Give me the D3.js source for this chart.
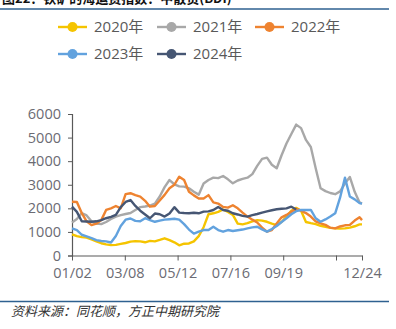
<!DOCTYPE html>
<html>
<head>
<meta charset="utf-8">
<script src="https://cdn.jsdelivr.net/npm/d3@7"></script>
<style>
  html, body { margin: 0; padding: 0; background: #fff; }
  svg { display: block; }
</style>
</head>
<body>
<svg id="chart" width="396" height="329"></svg>
<script>
// Day index (0 = 01/02), sampled every 6 days up to 12/24
const days = d3.range(0, 360, 6).concat([357]);

const tickDays = [0, 65, 130, 195, 260, 325, 357];
const tickLabels = ["01/02", "03/08", "05/12", "07/16", "09/19", "", "12/24"];
const yTicks = [0, 1000, 2000, 3000, 4000, 5000, 6000];

const seriesNames = ["2020年", "2021年", "2022年", "2023年", "2024年"];
const seriesColors = ["#f5c400", "#a8a8a8", "#ee8330", "#62a2de", "#465673"];

const v2020 = [900, 820, 780, 760, 680, 600, 520, 470, 440, 450, 490, 530, 590, 610, 600, 560,
  620, 600, 660, 730, 650, 560, 430, 500, 510, 600, 820, 1200, 1750, 1790, 1850, 1950, 1850, 1720,
  1350, 1320, 1370, 1450, 1500, 1480, 1430, 1350, 1290, 1420, 1650, 1900, 2020, 1900, 1420, 1370,
  1330, 1260, 1220, 1170, 1150, 1140, 1150, 1180, 1240, 1320, 1320];
const v2021 = [1400, 1550, 1800, 1700, 1450, 1350, 1330, 1420, 1550, 1650, 1710, 1760, 1800, 1930,
  2050, 2080, 2120, 2200, 2500, 2900, 3200, 3020, 2930, 2920, 2850, 2700, 2580, 3050, 3200, 3300,
  3280, 3370, 3230, 3060, 3180, 3250, 3300, 3450, 3800, 4100, 4150, 3850, 3700, 4250, 4750, 5150,
  5550, 5400, 4900, 4600, 3700, 2850, 2730, 2650, 2600, 2720, 3050, 3330, 2700, 2250, 2200];
const v2022 = [2280, 2270, 1800, 1450, 1290, 1350, 1500, 1930, 2000, 2100, 2000, 2600, 2640, 2560,
  2500, 2320, 2070, 2100, 2330, 2570, 2850, 3000, 3340, 3200, 2700, 2550, 2420, 2420, 2560, 2250,
  2200, 2060, 2030, 2130, 2000, 1820, 1650, 1520, 1400, 1180, 1010, 1080, 1360, 1620, 1720, 1850,
  1980, 1900, 1800, 1650, 1450, 1360, 1300, 1180, 1150, 1230, 1280, 1300, 1480, 1620, 1500];
const v2023 = [1150, 1080, 880, 810, 740, 650, 615, 600, 550, 830, 1250, 1520, 1570, 1470, 1450,
  1580, 1500, 1430, 1480, 1520, 1540, 1560, 1520, 1330, 1100, 930, 1010, 1080, 1080, 1220, 1080,
  1010, 1080, 1040, 1070, 1100, 1150, 1190, 1220, 1110, 1010, 1120, 1250, 1420, 1580, 1750, 1880,
  1930, 1930, 1930, 1580, 1430, 1530, 1650, 1790, 2450, 3300, 2500, 2380, 2220, 2200];
const v2024 = [2070, 1850, 1450, 1440, 1430, 1450, 1500, 1580, 1640, 1720, 2050, 2270, 2350, 2100,
  1900, 1740, 1580, 1780, 1750, 1650, 1780, 2050, 1820, 1800, 1790, 1810, 1790, 1860, 1870, 1930,
  2060, 1930, 1900, 1790, 1740, 1680, 1650, 1710, 1760, 1820, 1870, 1920, 1960, 1980, 2000, 2070,
  1950];

const seriesValues = [v2020, v2021, v2022, v2023, v2024];

const svg = d3.select("#chart");
const font = "'Open Sans', 'Noto Sans CJK SC', sans-serif";
const steel = "#2e6190";

// Heading (runs past the top edge) and rules
svg.append("text")
  .attr("x", 2).attr("y", 3)
  .attr("font-family", "'Noto Sans CJK SC', sans-serif")
  .attr("font-size", 13).attr("font-weight", "bold").attr("fill", "#111")
  .text("图22：铁矿的海运费指数：中散货(BDI)");
svg.append("line").attr("x1", 0).attr("x2", 389).attr("y1", 9).attr("y2", 9)
  .attr("stroke", steel).attr("stroke-width", 1.5);
svg.append("line").attr("x1", 0).attr("x2", 389).attr("y1", 301.5).attr("y2", 301.5)
  .attr("stroke", steel).attr("stroke-width", 1.5);

// Source line
svg.append("text")
  .attr("x", 11).attr("y", 316)
  .attr("font-family", "'Noto Sans CJK SC', sans-serif")
  .attr("font-size", 13).attr("font-style", "italic").attr("fill", "#333")
  .text("资料来源：同花顺，方正中期研究院");

// Scales
const x = d3.scaleLinear().domain([0, 357]).range([72, 362]);
const y = d3.scaleLinear().domain([0, 6000]).range([255.5, 114]);

// Y axis
const yAxis = svg.append("g")
  .attr("transform", "translate(72,0)")
  .call(d3.axisLeft(y).tickValues(yTicks).tickFormat(d3.format("d")).tickSize(4).tickPadding(7));
yAxis.select(".domain").attr("stroke", "#595959").attr("stroke-width", 1.2);
yAxis.selectAll(".tick line").attr("stroke", "#595959");
yAxis.selectAll("text").attr("font-family", font).attr("font-size", 14.5).attr("fill", "#6b6b73");

// X axis
const xAxis = svg.append("g")
  .attr("transform", "translate(0,255.5)")
  .call(d3.axisBottom(x).tickValues(tickDays).tickFormat((d, i) => tickLabels[i]).tickSize(5).tickSizeOuter(0).tickPadding(7));
xAxis.select(".domain").attr("stroke", "#595959").attr("stroke-width", 1.2);
xAxis.selectAll(".tick line").attr("stroke", "#595959");
xAxis.selectAll("text").attr("font-family", font).attr("font-size", 14.5).attr("fill", "#6b6b73");

// Lines
const line = d3.line()
  .defined(d => d[1] != null)
  .x(d => x(d[0]))
  .y(d => y(d[1]));

seriesValues.forEach((vals, i) => {
  const pts = vals.map((v, j) => [days[j], v]);
  svg.append("path")
    .datum(pts)
    .attr("fill", "none")
    .attr("stroke", seriesColors[i])
    .attr("stroke-width", 2.4)
    .attr("stroke-linejoin", "round")
    .attr("d", line);
});

// Legend
const legendPos = [[58, 27], [157, 27], [255, 27], [58, 54], [157, 54]];
seriesNames.forEach((name, i) => {
  const [lx, ly] = legendPos[i];
  const g = svg.append("g").attr("transform", `translate(${lx},${ly})`);
  g.append("line").attr("x1", 0).attr("x2", 29).attr("y1", 0).attr("y2", 0)
    .attr("stroke", seriesColors[i]).attr("stroke-width", 2.4);
  g.append("circle").attr("cx", 14.5).attr("cy", 0).attr("r", 5).attr("fill", seriesColors[i]);
  g.append("text").attr("x", 36).attr("y", 0).attr("dy", "0.36em")
    .attr("font-family", font).attr("font-size", 15).attr("fill", "#595959")
    .text(name);
});
</script>
</body>
</html>
